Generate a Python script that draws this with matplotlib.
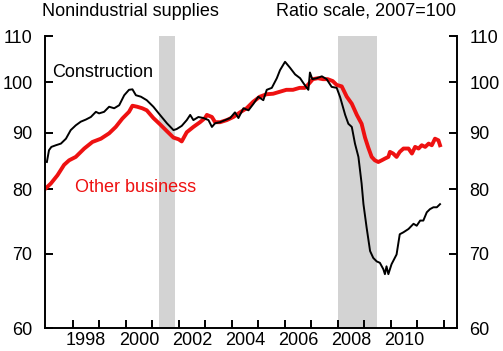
import numpy as np
import matplotlib
matplotlib.use("Agg")
import matplotlib.pyplot as plt
from matplotlib.ticker import FixedLocator, NullLocator, NullFormatter

plt.rcParams['font.family'] = ['Liberation Sans', 'DejaVu Sans']

# ── Data (decimal year, index 2007=100) ───────────────────────────────────────
con_years = [1997.02, 1997.10, 1997.19, 1997.36, 1997.55, 1997.74, 1997.92, 1998.11,
             1998.30, 1998.49, 1998.68, 1998.87, 1998.99, 1999.18, 1999.37, 1999.56,
             1999.75, 1999.94, 2000.12, 2000.25, 2000.38, 2000.57, 2000.79, 2001.04,
             2001.29, 2001.55, 2001.80, 2001.92, 2002.11, 2002.30, 2002.43, 2002.55,
             2002.74, 2002.93, 2003.12, 2003.25, 2003.37, 2003.56, 2003.75, 2003.94,
             2004.12, 2004.25, 2004.44, 2004.63, 2004.82, 2005.00, 2005.19, 2005.32,
             2005.51, 2005.70, 2005.82, 2006.01, 2006.20, 2006.39, 2006.58, 2006.70,
             2006.83, 2006.89, 2006.95, 2007.04, 2007.21, 2007.40, 2007.58, 2007.77,
             2007.96, 2008.09, 2008.28, 2008.40, 2008.53, 2008.65, 2008.78, 2008.90,
             2008.97, 2009.09, 2009.22, 2009.34, 2009.47, 2009.59, 2009.72, 2009.78,
             2009.84, 2009.91, 2010.03, 2010.22, 2010.34, 2010.48, 2010.67, 2010.86,
             2010.98, 2011.11, 2011.23, 2011.36, 2011.48, 2011.61, 2011.74, 2011.86]
con_values = [84.7, 86.8, 87.4, 87.7, 88.0, 88.9, 90.5, 91.4,
              92.1, 92.5, 93.0, 94.0, 93.7, 94.0, 95.0, 94.7,
              95.3, 97.3, 98.4, 98.5, 97.3, 97.0, 96.3, 95.0,
              93.4, 91.8, 90.5, 90.7, 91.3, 92.4, 93.4, 92.4,
              93.0, 92.8, 92.4, 91.1, 91.8, 92.0, 92.4, 92.8,
              93.9, 92.8, 94.7, 94.3, 95.6, 97.0, 96.3, 98.4,
              98.8, 100.8, 102.5, 104.3, 103.0, 101.6, 100.8, 99.8,
              98.8, 98.4, 102.0, 100.6, 100.8, 101.2, 100.6, 99.0,
              98.8, 96.9, 93.4, 91.7, 91.1, 88.0, 85.6, 81.0,
              77.6, 73.9, 70.4, 69.4, 68.9, 68.7, 67.8, 67.1,
              68.2, 67.1, 68.5, 69.9, 72.9, 73.2, 73.7, 74.5,
              74.2, 75.0, 75.0, 76.3, 76.8, 77.1, 77.1, 77.6]

oth_years = [1996.98, 1997.17, 1997.42, 1997.67, 1997.86, 1998.11, 1998.43, 1998.74,
             1999.06, 1999.37, 1999.62, 1999.87, 2000.12, 2000.25, 2000.43, 2000.62,
             2000.79, 2001.04, 2001.29, 2001.55, 2001.80, 2001.99, 2002.11, 2002.30,
             2002.55, 2002.80, 2002.99, 2003.06, 2003.25, 2003.37, 2003.56, 2003.81,
             2004.06, 2004.31, 2004.56, 2004.81, 2005.06, 2005.31, 2005.56, 2005.81,
             2006.06, 2006.31, 2006.56, 2006.75, 2006.87, 2007.06, 2007.25, 2007.44,
             2007.62, 2007.81, 2007.96, 2008.15, 2008.34, 2008.53, 2008.72, 2008.90,
             2009.03, 2009.15, 2009.28, 2009.40, 2009.53, 2009.66, 2009.78, 2009.91,
             2009.97, 2010.09, 2010.22, 2010.34, 2010.48, 2010.67, 2010.80, 2010.92,
             2011.05, 2011.17, 2011.30, 2011.43, 2011.55, 2011.67, 2011.80, 2011.86]
oth_values = [80.2, 81.0, 82.4, 84.2, 85.0, 85.6, 87.1, 88.3,
              88.9, 89.9, 91.1, 92.7, 94.0, 95.2, 95.0, 94.7,
              94.3, 92.8, 91.6, 90.3, 89.1, 88.8, 88.4, 90.1,
              91.1, 92.0, 92.8, 93.4, 93.0, 92.0, 92.0, 92.4,
              93.0, 93.9, 94.7, 96.0, 97.0, 97.5, 97.6, 98.0,
              98.4, 98.4, 98.8, 98.8, 99.4, 100.6, 100.8, 100.6,
              100.6, 100.2, 99.4, 99.1, 97.0, 95.6, 93.4, 91.7,
              89.1, 87.3, 85.6, 85.0, 84.7, 85.0, 85.3, 85.6,
              86.5, 86.2, 85.6, 86.5, 87.1, 87.1, 86.2, 87.4,
              87.1, 87.7, 87.4, 88.0, 87.7, 88.9, 88.6, 87.7]

recessions = [(2001.25, 2001.875), (2008.0, 2009.5)]
y_ticks = [60, 70, 80, 90, 100, 110]
x_label_years = [1998, 2000, 2002, 2004, 2006, 2008, 2010]

# ── Figure ─────────────────────────────────────────────────────────────────────
fig = plt.figure(figsize=(5.03, 3.51), dpi=100)
ax = fig.add_axes([0.0895, 0.0655, 0.819, 0.8315])

for start, end in recessions:
    ax.axvspan(start, end, color='#d3d3d3', lw=0, zorder=0)

ax.plot(oth_years, oth_values, color='#ee1111', lw=2.8, zorder=2)
ax.plot(con_years, con_values, color='black', lw=1.4, zorder=3)

ax.set_yscale('log')
ax.set_ylim(60, 110)
ax.set_xlim(1996.95, 2012.5)

# y axis on both sides, ticks inward
ax.yaxis.set_major_locator(FixedLocator(y_ticks))
ax.yaxis.set_minor_locator(NullLocator())
ax.yaxis.set_minor_formatter(NullFormatter())
ax.set_yticklabels([str(v) for v in y_ticks])
ax.tick_params(axis='y', which='major', direction='in', length=6, width=1.4,
               labelsize=13, pad=9, left=True, right=True,
               labelleft=True, labelright=True)

# x axis: year ticks inward, labels centred mid-year
ax.xaxis.set_minor_locator(FixedLocator(np.arange(1998, 2013)))
ax.xaxis.set_major_locator(FixedLocator([y + 0.5 for y in x_label_years]))
ax.set_xticklabels([str(y) for y in x_label_years])
ax.tick_params(axis='x', which='major', length=0, labelsize=13, pad=3)
ax.tick_params(axis='x', which='minor', direction='in', length=6, width=1.4)

ax.spines['top'].set_visible(False)
for s in ['left', 'right', 'bottom']:
    ax.spines[s].set_linewidth(1.4)

ax.text(1997.23, 102.1, 'Construction', fontsize=13, color='black', va='center')
ax.text(1998.09, 80.3, 'Other business', fontsize=13, color='#ee1111', va='center')

fig.text(0.083, 0.968, 'Nonindustrial supplies', fontsize=13, va='center', ha='left')
fig.text(0.907, 0.968, 'Ratio scale, 2007=100', fontsize=13, va='center', ha='right')

fig.savefig('out.png', dpi=100)
